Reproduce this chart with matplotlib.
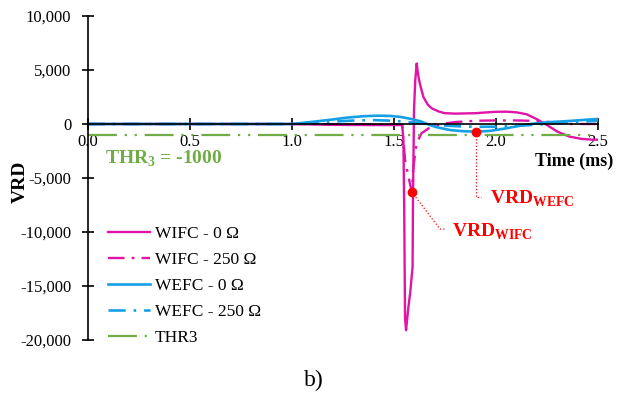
import matplotlib
matplotlib.use("Agg")
import matplotlib.pyplot as plt
from matplotlib.ticker import FuncFormatter

plt.rcParams['font.family'] = ['Liberation Serif', 'DejaVu Serif']
plt.rcParams['mathtext.fontset'] = 'custom'
plt.rcParams['mathtext.rm'] = 'Liberation Serif'
plt.rcParams['mathtext.bf'] = 'Liberation Serif:bold'

# time (ms) / VRD values
t_wifc0 = [0, 1.0, 1.2, 1.4, 1.54, 1.546, 1.55, 1.554, 1.559, 1.569, 1.58, 1.591,
           1.593, 1.598, 1.604, 1.611, 1.618, 1.627, 1.644, 1.665, 1.685, 1.72,
           1.75, 1.8, 1.9, 1.95, 2.0, 2.05, 2.1, 2.15, 2.2, 2.25, 2.3, 2.36,
           2.42, 2.47, 2.5]
v_wifc0 = [0, 0, -80, -100, -100, -1500, -8000, -18000, -19100, -17200, -15500,
           -13200, -7000, 1300, 4000, 5600, 4600, 3700, 2500, 1800, 1450, 1150,
           1000, 960, 1000, 1070, 1130, 1140, 1080, 900, 450, -100, -700, -1170,
           -1380, -1450, -1450]

t_wifc250 = [0, 1.0, 1.4, 1.54, 1.546, 1.554, 1.57, 1.587, 1.595, 1.61, 1.635,
             1.67, 1.7, 1.75, 1.8, 1.9, 2.0, 2.1, 2.2, 2.28, 2.35, 2.5]
v_wifc250 = [0, 0, -50, -50, -1500, -3300, -4800, -6300, -4000, -1800, -850,
             -400, -200, 50, 180, 300, 330, 330, 280, 150, 0, 0]

t_wefc0 = [0, 1.0, 1.1, 1.2, 1.27, 1.35, 1.415, 1.48, 1.53, 1.58, 1.63, 1.676,
           1.71, 1.775, 1.84, 1.905, 1.97, 2.05, 2.11, 2.17, 2.25, 2.36, 2.475, 2.5]
v_wefc0 = [0, 0, 200, 420, 590, 720, 770, 750, 660, 480, 250, -100, -300, -560,
           -670, -710, -640, -400, -180, 0, 160, 280, 440, 460]

t_wefc250 = [0, 1.0, 1.1, 1.2, 1.3, 1.4, 1.5, 1.6, 1.7, 1.8, 1.9, 2.0, 2.1, 2.2,
             2.3, 2.4, 2.5]
v_wefc250 = [0, 0, 100, 220, 320, 360, 300, 120, -80, -200, -260, -250, -180,
             -60, 80, 200, 300]

t_thr = [0, 2.5]
v_thr = [-1000, -1000]

dot_wifc = (1.587, -6300)
dot_wefc = (1.90, -750)

magenta = '#E014A6'
blue = '#149FE6'
green = '#70AD47'
red = '#FF0000'

fig = plt.figure(figsize=(6.19, 3.99), dpi=100)
ax = fig.add_axes([0.1422, 0.1479, 0.8239, 0.812])

ax.plot(t_wifc0, v_wifc0, color=magenta, lw=1.7, label='WIFC - 0 Ω')
ax.plot(t_wifc250, v_wifc250, color=magenta, lw=1.7, ls=(0, (7, 3, 1.2, 3)),
        label='WIFC - 250 Ω')
ax.plot(t_wefc0, v_wefc0, color=blue, lw=1.9, label='WEFC - 0 Ω')
ax.plot(t_wefc250, v_wefc250, color=blue, lw=1.9, ls=(0, (6.5, 3, 1, 3)),
        label='WEFC - 250 Ω')
ax.plot(t_thr, v_thr, color=green, lw=1.6, ls=(0, (13, 3.5, 1, 3.5, 1, 3.5)),
        label='THR3')

# marked points and leader lines
ax.plot(*dot_wifc, 'o', color=red, ms=6, zorder=5)
ax.plot(*dot_wefc, 'o', color=red, ms=6, zorder=5)
ax.plot([dot_wifc[0], 1.725, 1.75], [dot_wifc[1], -9720, -9720],
        color=red, lw=0.9, ls=':', zorder=4)
ax.plot([dot_wefc[0], dot_wefc[0], 1.925], [dot_wefc[1], -6760, -6760],
        color=red, lw=0.9, ls=':', zorder=4)
ax.text(1.784, -10430, r'VRD$_{\mathbf{WIFC}}$', color=red, fontsize=14,
        fontweight='bold', va='baseline', ha='left')
ax.text(1.97, -7340, r'VRD$_{\mathbf{WEFC}}$', color=red, fontsize=14,
        fontweight='bold', va='baseline', ha='left')
ax.text(0.083, -3700, r'THR$_{\mathbf{3}}$ = -1000', color=green, fontsize=14,
        fontweight='bold', va='baseline', ha='left')
ax.text(2.575, -3450, 'Time (ms)', fontsize=13, fontweight='bold',
        va='center', ha='right', clip_on=False)
fig.text(20 / 619, 1 - 182 / 399, 'VRD', rotation=90, fontsize=14,
         fontweight='bold', va='center', ha='center')
fig.text(314 / 619, 1 - 380 / 399, 'b)', fontsize=17, va='center', ha='center')

ax.set_xlim(0, 2.5)
ax.set_ylim(-20000, 10000)
ax.set_xticks([0, 0.5, 1.0, 1.5, 2.0, 2.5])
ax.set_yticks(range(-20000, 10001, 5000))
ax.xaxis.set_major_formatter(FuncFormatter(lambda x, p: f'{x:.1f}'))
ax.yaxis.set_major_formatter(FuncFormatter(lambda y, p: f'{int(y):,}'))
ax.spines['top'].set_visible(False)
ax.spines['right'].set_visible(False)
ax.spines['bottom'].set_position(('data', 0))
ax.spines['left'].set_linewidth(1.2)
ax.spines['bottom'].set_linewidth(1.2)
ax.tick_params(direction='inout', length=8, width=1.2, labelsize=12)
ax.tick_params(axis='y', pad=8)
ax.tick_params(axis='x', pad=3)
ax.patch.set_alpha(0)

leg = ax.legend(loc='upper left', bbox_to_anchor=(108 / 619, 1 - 226 / 399),
                bbox_transform=fig.transFigure, frameon=False, fontsize=12.5,
                handlelength=2.4, handletextpad=0.3, labelspacing=0.56,
                borderpad=0, borderaxespad=0)

fig.savefig('out.png', dpi=100)
